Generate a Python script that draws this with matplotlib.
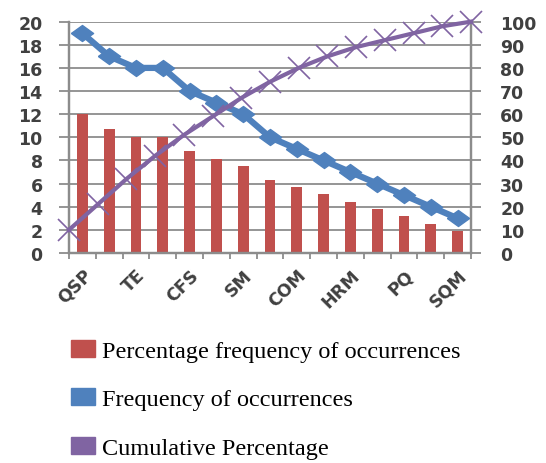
import numpy as np
import matplotlib
matplotlib.use('Agg')
import matplotlib.pyplot as plt
from matplotlib.patches import Patch

# datos
categorias = ['QSP', '', 'TE', '', 'CFS', '', 'SM', '', 'COM', '', 'HRM', '', 'PQ', '', 'SQM']
pct_frecuencia = [12, 10.7, 10, 10, 8.8, 8.1, 7.5, 6.3, 5.7, 5.1, 4.4, 3.8, 3.2, 2.5, 1.9]
frecuencia = [19, 17, 16, 16, 14, 13, 12, 10, 9, 8, 7, 6, 5, 4, 3]
acumulado = [10, 21, 32, 42, 51, 59, 67, 74, 80, 85, 89, 92, 95, 98, 100]

ROJO = '#C0504D'
AZUL = '#4F81BD'
MORADO = '#8064A2'
GRIS = '#8C8C8C'
TEXTO = '#404040'

fig = plt.figure(figsize=(5.46, 4.64), dpi=100)
ax = fig.add_axes([0.1264, 0.4526, 0.7362, 0.4986])
ax2 = ax.twinx()

x = np.arange(len(categorias))
ax.bar(x, pct_frecuencia, width=0.4, color=ROJO, zorder=2)

# rombo achatado como en Excel
rombo = [(-1, 0), (0, 0.72), (1, 0), (0, -0.72), (-1, 0)]
ax.plot(x, frecuencia, color=AZUL, linewidth=4.5, marker=rombo, markersize=16,
        zorder=3)

# la serie acumulada ocupa todo el ancho del eje
x_acum = np.linspace(-0.5, len(categorias) - 0.5, len(acumulado))
ax2.plot(x_acum, acumulado, color=MORADO, linewidth=3, marker='x',
         markersize=16, markeredgewidth=1.2, zorder=4, clip_on=False)

ax.set_xlim(-0.5, len(categorias) - 0.5)
ax.set_ylim(0, 20)
ax2.set_ylim(0, 100)
ax.set_yticks(range(0, 21, 2))
ax2.set_yticks(range(0, 101, 10))

ax.set_xticks(x)
ax.set_xticklabels(categorias, rotation=45, ha='right', rotation_mode='anchor')
ax.set_xticks(np.arange(-0.5, len(categorias), 1), minor=True)
ax.tick_params(axis='x', which='major', length=0, pad=9)
ax.tick_params(axis='x', which='minor', length=4.5, color=GRIS, width=1.3)

for a in (ax, ax2):
    a.tick_params(axis='y', length=7, color=GRIS, width=1.3, labelcolor=TEXTO,
                  labelsize=12.5)
    for lado in a.spines.values():
        lado.set_color(GRIS)
        lado.set_linewidth(1.6)
    a.spines['top'].set_visible(False)
ax.tick_params(axis='x', labelcolor=TEXTO, labelsize=12.5)
for t in ax.get_xticklabels() + ax.get_yticklabels() + ax2.get_yticklabels():
    t.set_fontweight('bold')
ax.tick_params(axis='y', pad=12)
ax2.tick_params(axis='y', pad=14)

ax.grid(axis='y', color=GRIS, linewidth=1.3, zorder=0)
ax.set_axisbelow(True)

manijas = [Patch(color=ROJO), Patch(color=AZUL), Patch(color=MORADO)]
etiquetas = ['Percentage frequency of occurrences', 'Frequency of occurrences',
             'Cumulative Percentage']
fig.legend(manijas, etiquetas, loc='upper left', bbox_to_anchor=(0.113, 0.287),
           frameon=False, prop={'family': 'Liberation Serif', 'size': 17.5},
           handlelength=0.95, handleheight=0.7, labelspacing=1.1,
           handletextpad=0.3, borderaxespad=0)

fig.savefig('out.png', dpi=100)
